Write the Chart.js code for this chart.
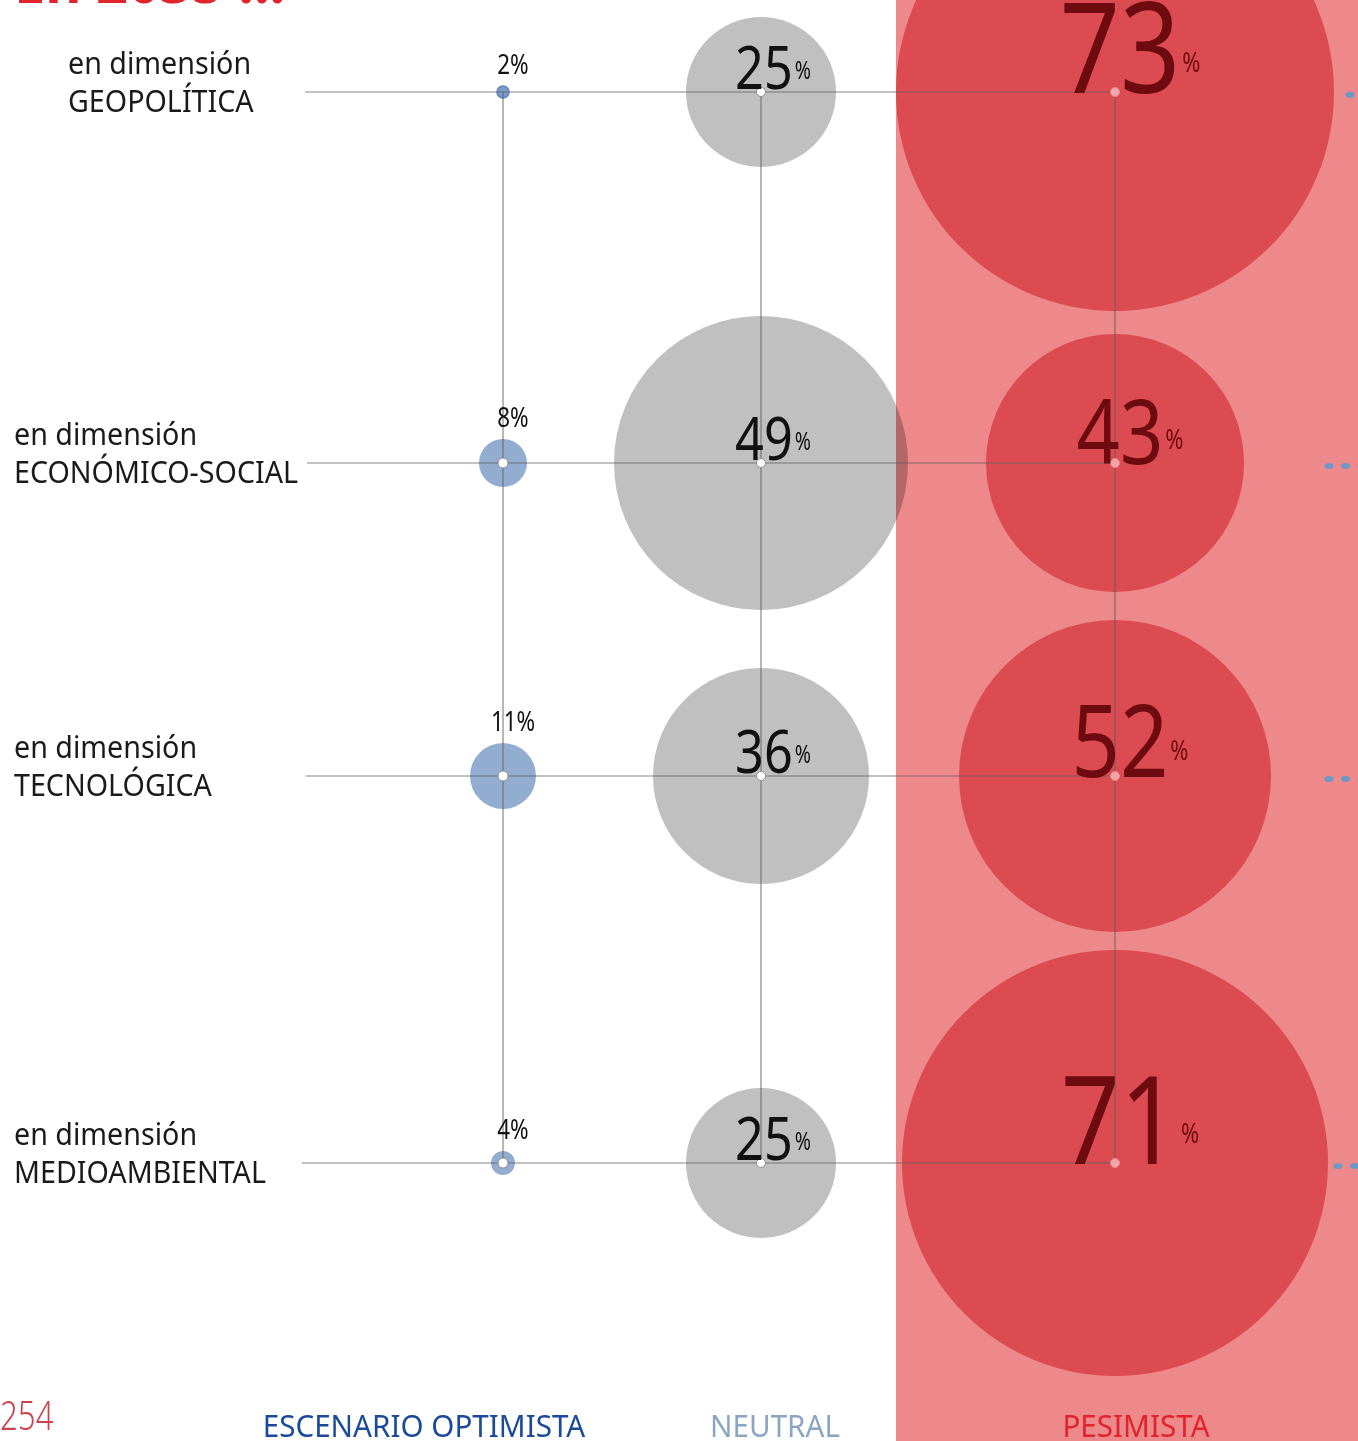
<!DOCTYPE html>
<html>
<head>
<meta charset="utf-8">
<script src="https://cdn.jsdelivr.net/npm/chart.js@4.4.0/dist/chart.umd.min.js"></script>
<style>
html, body { margin: 0; padding: 0; background: #fff; overflow: hidden; }
#wrap { position: relative; width: 1358px; height: 1441px; }
</style>
</head>
<body>
<div id="wrap"><canvas id="burbujas" width="1358" height="1441"></canvas></div>
<script>
// Datos
const dimensiones = ['GEOPOLÍTICA', 'ECONÓMICO-SOCIAL', 'TECNOLÓGICA', 'MEDIOAMBIENTAL'];
const escenarios = ['ESCENARIO OPTIMISTA', 'NEUTRAL', 'PESIMISTA'];
const optimista = [2, 8, 11, 4];
const neutral = [25, 49, 36, 25];
const pesimista = [73, 43, 52, 71];

// Maquetación (unidades de los ejes: 1 = 100 px)
const colPos = [5.03, 7.61, 11.15];
const rowPos = [0.92, 4.63, 7.76, 11.63];
const lineStart = [3.05, 3.07, 3.06, 3.02];
const labelX = [0.68, 0.14, 0.14, 0.14];
const footerPos = [4.24, 7.75, 11.36];
const leaderStart = [13.50, 13.29, 13.29, 13.38];
const bandStart = 8.96;
const Y_MAX = 14.41;
const RADIO_POR_PUNTO = 0.03; // unidades del eje y por punto porcentual

const FUENTE = '"Noto Sans", "Open Sans", sans-serif';

function puntos(valores, col) {
    return valores.map((v, i) => ({ x: colPos[col], y: rowPos[i], v: v }));
}

// Radio proporcional al valor (en unidades del eje y, pasado a píxeles)
function radio(ctx) {
    if (!ctx.raw) return 0;
    const y = ctx.chart.scales.y;
    if (y && isFinite(y.getPixelForValue(0)) && y.bottom > y.top) {
        return Math.abs(y.getPixelForValue(ctx.raw.v * RADIO_POR_PUNTO) - y.getPixelForValue(0));
    }
    return ctx.raw.v * RADIO_POR_PUNTO * ctx.chart.height / Y_MAX;
}

function texto(ctx, str, x, y, font, color, align, sx) {
    ctx.save();
    ctx.font = font;
    ctx.fillStyle = color;
    ctx.textAlign = align || 'left';
    ctx.textBaseline = 'alphabetic';
    ctx.translate(x, y);
    ctx.scale(sx || 1, 1);
    ctx.fillText(str, 0, 0);
    ctx.restore();
}

function etiquetaGrande(ctx, v, cx, cy, size, color, pctSize, offset) {
    const sx = 0.84, psx = 0.78, gap = 2;
    ctx.font = size + 'px ' + FUENTE;
    const wn = ctx.measureText(String(v)).width * sx;
    ctx.font = pctSize + 'px ' + FUENTE;
    const wp = ctx.measureText('%').width * psx;
    const left = cx + offset - (wn + gap + wp) / 2;
    texto(ctx, String(v), left, cy, size + 'px ' + FUENTE, color, 'left', sx);
    texto(ctx, '%', left + wn + gap, cy - size * 0.17, pctSize + 'px ' + FUENTE, color, 'left', psx);
}

function punto(ctx, x, y, r, fill, stroke) {
    ctx.beginPath();
    ctx.arc(x, y, r, 0, Math.PI * 2);
    ctx.fillStyle = fill;
    ctx.fill();
    ctx.lineWidth = 1;
    ctx.strokeStyle = stroke;
    ctx.stroke();
}

// Banda rosa del escenario pesimista
const fondoPesimista = {
    id: 'fondoPesimista',
    beforeDatasetsDraw(chart) {
        const { ctx, chartArea: a, scales: { x } } = chart;
        const x0 = x.getPixelForValue(bandStart);
        ctx.save();
        ctx.fillStyle = '#ee898b';
        ctx.fillRect(x0, a.top, a.right - x0, a.bottom - a.top);
        ctx.restore();
    },
    beforeDatasetDraw(chart, args) {
        if (args.index === 1) {
            chart.ctx.save();
            chart.ctx.globalCompositeOperation = 'multiply';
        }
    },
    afterDatasetDraw(chart, args) {
        if (args.index === 1) chart.ctx.restore();
    }
};

// Guías, puntos centrales y textos
const guias = {
    id: 'guias',
    afterDatasetsDraw(chart) {
        const { ctx, scales: { x, y } } = chart;
        const xs = colPos.map(c => x.getPixelForValue(c));
        const ys = rowPos.map(r => y.getPixelForValue(r));

        ctx.save();
        ctx.strokeStyle = 'rgba(95, 95, 95, 0.75)';
        ctx.lineWidth = 1.2;
        ys.forEach((py, i) => {
            ctx.beginPath();
            ctx.moveTo(x.getPixelForValue(lineStart[i]), py);
            ctx.lineTo(xs[2], py);
            ctx.stroke();
        });
        xs.forEach(px => {
            ctx.beginPath();
            ctx.moveTo(px, ys[0]);
            ctx.lineTo(px, ys[3]);
            ctx.stroke();
        });

        // puntos centrales
        ys.forEach((py, i) => {
            if (optimista[i] >= 3) punto(ctx, xs[0], py, 5, '#ffffff', '#8f8f8f');
            punto(ctx, xs[1], py, 4.5, '#ffffff', '#8f8f8f');
            punto(ctx, xs[2], py, 4.5, '#f2a5a8', '#e58c90');
        });

        // puntos guía cortados en el borde derecho
        ctx.fillStyle = '#6c98c4';
        ys.forEach((py, i) => {
            for (let px = x.getPixelForValue(leaderStart[i]); px < chart.width + 5; px += 16.5) {
                ctx.beginPath();
                ctx.ellipse(px, py + 3, 4.5, 3, 0, 0, Math.PI * 2);
                ctx.fill();
            }
        });
        ctx.restore();

        // rótulos de dimensión
        ys.forEach((py, i) => {
            const lx = x.getPixelForValue(labelX[i]);
            texto(ctx, 'en dimensión', lx, py - 18, '30px ' + FUENTE, '#1a1a1a', 'left', 0.955);
            texto(ctx, dimensiones[i], lx, py + 20, '30px ' + FUENTE, '#1a1a1a', 'left', 0.955);
        });

        // valores optimistas
        ys.forEach((py, i) => {
            const r = Math.abs(y.getPixelForValue(optimista[i] * RADIO_POR_PUNTO) - y.getPixelForValue(0));
            texto(ctx, optimista[i] + '%', xs[0] + 10, py - r - 12, '28px ' + FUENTE, '#111111', 'center', 0.8);
        });

        // valores neutral y pesimista
        ys.forEach((py, i) => {
            etiquetaGrande(ctx, neutral[i], xs[1], py - 3, 60, '#111111', 25, 12);
            etiquetaGrande(ctx, pesimista[i], xs[2], py + 1, 40 + 1.17 * pesimista[i], '#6e0b10', 28, 15);
        });

        // pie: escenarios
        const colores = ['#1a4a99', '#8ba6c2', '#e1232b'];
        escenarios.forEach((e, i) => {
            texto(ctx, e, x.getPixelForValue(footerPos[i]), 1437, '31px ' + FUENTE, colores[i], 'center', 0.955);
        });

        // número de página y título cortado
        texto(ctx, '254', 0, 1430, '300 40px ' + FUENTE, '#c8434d', 'left', 0.78);
        texto(ctx, 'En 2035 ...', 14, 3, 'bold 62px ' + FUENTE, '#e0242c', 'left', 0.9);
    }
};

new Chart(document.getElementById('burbujas').getContext('2d'), {
    type: 'bubble',
    data: {
        datasets: [
            {
                label: escenarios[0],
                data: puntos(optimista, 0),
                backgroundColor: ctx => (ctx.raw && ctx.raw.v < 3) ? '#7d9cce' : '#93add0',
                borderColor: '#5f83bd',
                borderWidth: ctx => (ctx.raw && ctx.raw.v < 3) ? 1.5 : 0,
                radius: radio
            },
            {
                label: escenarios[1],
                data: puntos(neutral, 1),
                backgroundColor: '#c0c0c0',
                borderWidth: 0,
                radius: radio
            },
            {
                label: escenarios[2],
                data: puntos(pesimista, 2),
                backgroundColor: '#dc4b51',
                borderWidth: 0,
                radius: radio
            }
        ]
    },
    options: {
        responsive: false,
        animation: false,
        events: [],
        layout: { padding: 0, autoPadding: false },
        scales: {
            x: { type: 'linear', min: 0, max: 13.58, display: false },
            y: { type: 'linear', min: 0, max: Y_MAX, reverse: true, display: false }
        },
        plugins: {
            legend: { display: false },
            tooltip: { enabled: false }
        }
    },
    plugins: [fondoPesimista, guias]
});
</script>
</body>
</html>
